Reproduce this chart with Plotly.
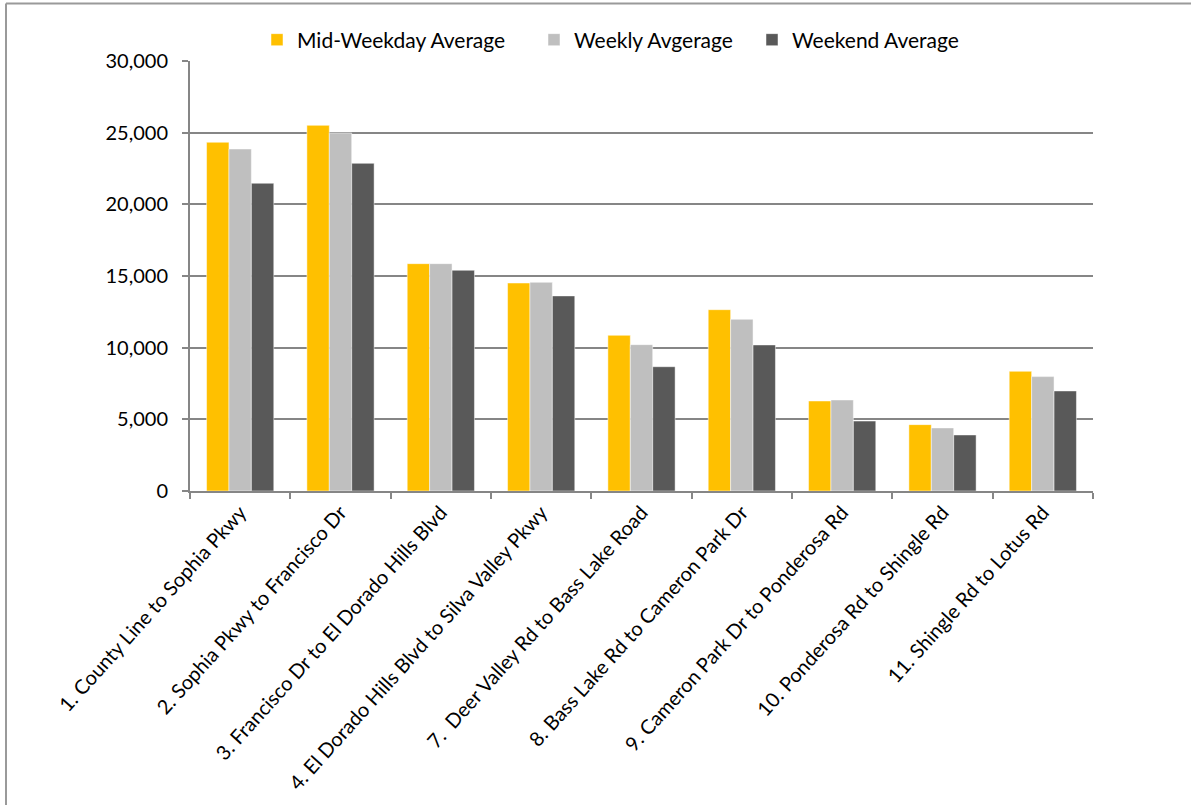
import plotly.graph_objects as go

segments = [
    "1. County Line to Sophia Pkwy",
    "2. Sophia Pkwy to Francisco Dr",
    "3. Francisco Dr to El Dorado Hills Blvd",
    "4. El Dorado Hills Blvd to Silva Valley Pkwy",
    "7.  Deer Valley Rd to Bass Lake Road",
    "8. Bass Lake Rd to Cameron Park Dr",
    "9. Cameron Park Dr to Ponderosa Rd",
    "10. Ponderosa Rd to Shingle Rd",
    "11. Shingle Rd to Lotus Rd",
]
mid_weekday = [24330, 25510, 15860, 14510, 10860, 12650, 6280, 4630, 8350]
weekly = [23860, 24980, 15860, 14560, 10210, 11980, 6350, 4400, 7980]
weekend = [21470, 22860, 15400, 13610, 8670, 10190, 4880, 3910, 6980]

series = [
    ("Mid-Weekday Average", mid_weekday, "#FFC000"),
    ("Weekly Avgerage", weekly, "#BFBFBF"),
    ("Weekend Average", weekend, "#595959"),
]

W, H = 1191, 805
L, R, T, B = 190, 98, 61, 314
pw, ph = W - L - R, H - T - B

# one legend per series so each entry sits at its own horizontal spot
legend_ids = ["legend", "legend2", "legend3"]
legend_left_px = [257, 534, 752]

fig = go.Figure()
for (name, vals, color), lid in zip(series, legend_ids):
    fig.add_trace(go.Bar(
        name=name, x=segments, y=vals, legend=lid, showlegend=True,
        marker=dict(color=color, line=dict(color="rgba(255,255,255,0.6)", width=0.8)),
    ))

axis_grey = "#868686"
font = dict(family="Lato, Calibri, Carlito, sans-serif", size=20, color="#000000")

legend_style = dict(orientation="h", xanchor="left", y=1 + (T - 40) / ph,
                    yanchor="middle", font=dict(size=21), itemwidth=30,
                    itemclick=False, bgcolor="rgba(0,0,0,0)")

layout_legends = {
    lid: dict(legend_style, x=(px - L) / pw)
    for lid, px in zip(legend_ids, legend_left_px)
}

fig.update_layout(
    width=W, height=H,
    margin=dict(l=L, r=R, t=T, b=B),
    paper_bgcolor="white", plot_bgcolor="white",
    barmode="group", bargap=0.33, bargroupgap=0,
    font=font, showlegend=True,
    xaxis=dict(
        tickangle=-48, tickson="boundaries", ticks="outside", ticklen=6,
        tickcolor=axis_grey, tickwidth=1.5,
        showline=True, linecolor=axis_grey, linewidth=2,
        showgrid=False, tickfont=dict(size=20),
    ),
    yaxis=dict(
        range=[0, 30000], dtick=5000, tickformat=",d",
        ticks="outside", ticklen=6, tickcolor=axis_grey, tickwidth=1.5,
        showline=True, linecolor=axis_grey, linewidth=2,
        showgrid=True, gridcolor=axis_grey, gridwidth=1.5,
        tickfont=dict(size=20), zeroline=False, ticklabelstandoff=10,
    ),
    **layout_legends,
)

# outer chart frame (top and left edges)
fx0 = (6 - L) / pw
fy1 = 1 + (T - 3.5) / ph
fig.add_shape(type="line", xref="paper", yref="paper",
              x0=fx0, x1=1 + R / pw + 0.01, y0=fy1, y1=fy1,
              line=dict(color="#9A9A9A", width=2))
fig.add_shape(type="line", xref="paper", yref="paper",
              x0=fx0, x1=fx0, y0=-B / ph - 0.01, y1=fy1,
              line=dict(color="#9A9A9A", width=2))

fig.write_html("out.html")
